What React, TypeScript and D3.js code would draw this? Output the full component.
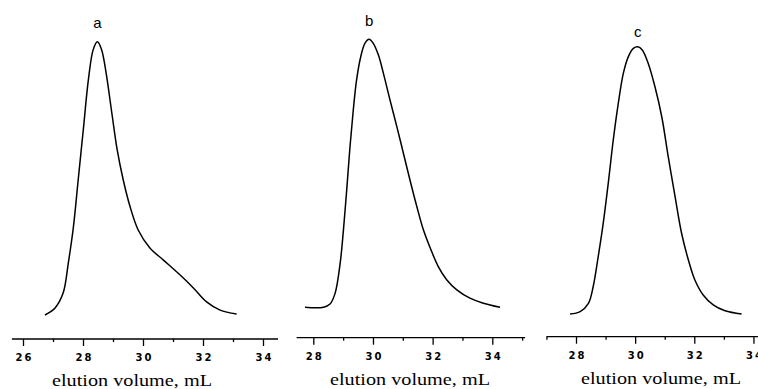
import React, { useEffect, useRef } from 'react';
import * as d3 from 'd3';

// elution profiles (volume in mL, relative signal 0-100)
const volumeA = [26.73, 27.07, 27.34, 27.51, 27.68, 27.84, 28.01, 28.18, 28.34, 28.48, 28.62, 28.77, 28.96, 29.14, 29.34, 29.57, 29.84, 30.23, 30.68, 31.23, 31.68, 32.12, 32.57, 33.12];
const signalA = [0, 2.6, 8.1, 19, 32.2, 49.5, 67.8, 86.1, 97.1, 100, 97.1, 88.6, 74, 60.4, 49.5, 39.6, 31.1, 24.5, 20.1, 14.7, 9.9, 4.8, 1.8, 0.4];

const volumeB = [27.72, 28.34, 28.56, 28.73, 28.9, 29.01, 29.12, 29.23, 29.34, 29.45, 29.59, 29.73, 29.87, 30.01, 30.18, 30.35, 30.57, 30.8, 31.02, 31.24, 31.47, 31.69, 31.92, 32.19, 32.47, 32.81, 33.25, 33.7, 34.26];
const signalB = [0, 0, 1.2, 5.2, 16.4, 28.8, 43.8, 59.9, 73.6, 84.8, 93.5, 98.5, 100, 98.5, 94.2, 87.3, 77.4, 67.4, 57.5, 47.5, 37.6, 28.9, 22.1, 15.2, 10.3, 6.5, 3.4, 1.5, 0];

const volumeC = [27.8, 28.14, 28.42, 28.58, 28.75, 28.92, 29.09, 29.26, 29.43, 29.6, 29.77, 29.94, 30.09, 30.24, 30.44, 30.67, 30.9, 31.12, 31.35, 31.57, 31.8, 32.02, 32.3, 32.64, 33.04, 33.6];
const signalC = [0, 0.9, 4.0, 10.2, 21.4, 33.9, 48.9, 65.1, 78.8, 90.0, 96.3, 99.4, 100, 98.8, 93.8, 85.0, 73.8, 58.8, 43.9, 30.2, 20.2, 12.7, 7.1, 3.4, 1.2, 0];

const labels = ['a', 'b', 'c'];
const majorA = [26, 28, 30, 32, 34];
const minorA = [27, 29, 31, 33];
const majorB = [28, 30, 32, 34];
const minorB = [29, 31, 33, 35];
const majorC = [28, 30, 32, 34];
const minorC = [27, 29, 31, 33];
const axisTitle = 'elution volume, mL';

// layout of each panel (pixels)
const panels = [
    { vol: volumeA, sig: signalA, major: majorA, minor: minorA, d0: 26, d1: 34, r0: 23, r1: 263,
      axisY: 339, lineFrom: 25.63, lineTo: 34.5, top: 41.7, base: 315, labelY: 28, titleX: 132 },
    { vol: volumeB, sig: signalB, major: majorB, minor: minorB, d0: 28, d1: 34, r0: 313.3, r1: 492.3,
      axisY: 337.7, lineFrom: 27.44, lineTo: 35.1, top: 39.3, base: 307.3, labelY: 26, titleX: 410 },
    { vol: volumeC, sig: signalC, major: majorC, minor: minorC, d0: 28, d1: 32, r0: 576, r1: 694.3,
      axisY: 336.7, lineFrom: 27, lineTo: 34.5, top: 46.7, base: 314, labelY: 36.7, titleX: 661 },
];

const App = () => {
    const ref = useRef<SVGSVGElement>(null);

    useEffect(() => {
        const svg = d3.select(ref.current);
        svg.selectAll('*').remove();

        panels.forEach((p, i) => {
            const x = d3.scaleLinear().domain([p.d0, p.d1]).range([p.r0, p.r1]);
            const y = d3.scaleLinear().domain([0, 100]).range([p.base, p.top]);
            const g = svg.append('g');

            // baseline of axis
            g.append('line')
                .attr('x1', x(p.lineFrom)).attr('x2', x(p.lineTo))
                .attr('y1', p.axisY).attr('y2', p.axisY)
                .attr('stroke', '#000').attr('stroke-width', 1.3);

            const major = g.append('g')
                .attr('transform', 'translate(0,' + p.axisY + ')')
                .call(d3.axisBottom(x).tickValues(p.major).tickSize(7).tickFormat(d3.format('d')));
            major.select('.domain').remove();
            major.selectAll('line').attr('stroke', '#000').attr('stroke-width', 1.3);
            major.selectAll('text')
                .attr('y', 22).attr('dy', 0).attr('dx', 1)
                .attr('fill', '#000')
                .style('font-family', '"DejaVu Sans", sans-serif')
                .style('font-size', '10px')
                .style('font-weight', 'bold')
                .style('letter-spacing', '2px');

            const minor = g.append('g')
                .attr('transform', 'translate(0,' + p.axisY + ')')
                .call(d3.axisBottom(x).tickValues(p.minor).tickSize(3).tickFormat(() => ''));
            minor.select('.domain').remove();
            minor.selectAll('line').attr('stroke', '#000').attr('stroke-width', 1.3);

            const line = d3.line<number>()
                .x((d, k) => x(p.vol[k]))
                .y(d => y(d))
                .curve(d3.curveCatmullRom.alpha(0.5));

            g.append('path')
                .attr('d', line(p.sig))
                .attr('fill', 'none')
                .attr('stroke', '#000')
                .attr('stroke-width', 1.5);

            // peak label over the maximum
            const peak = p.sig.indexOf(d3.max(p.sig) as number);
            g.append('text')
                .attr('x', x(p.vol[peak]))
                .attr('y', p.labelY)
                .attr('text-anchor', 'middle')
                .style('font-family', '"Liberation Sans", Arial, sans-serif')
                .style('font-size', '15px')
                .text(labels[i]);

            g.append('text')
                .attr('x', p.titleX)
                .attr('y', p.axisY + 47)
                .attr('text-anchor', 'middle')
                .attr('textLength', 160)
                .attr('lengthAdjust', 'spacingAndGlyphs')
                .style('font-family', '"Liberation Serif", "Times New Roman", serif')
                .style('font-size', '17px')
                .text(axisTitle);
        });
    }, []);

    return (
        <svg ref={ref} width={758} height={389}
            style={{ position: 'absolute', left: 0, top: 0, background: '#fff' }} />
    );
};

export default App;
